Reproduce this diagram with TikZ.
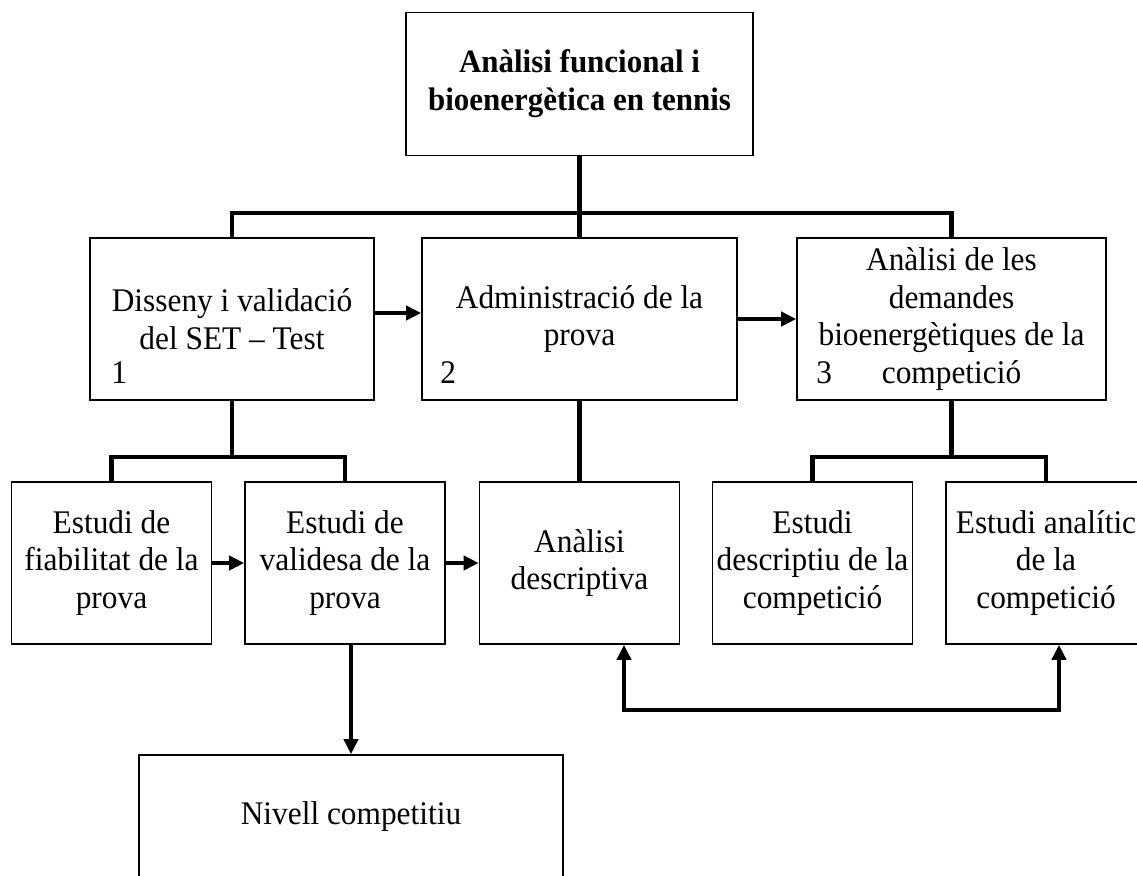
\documentclass[tikz,border=0pt]{standalone}
\usepackage{fontspec}
\setmainfont{Liberation Serif}[FakeStretch=0.95]
\usetikzlibrary{arrows.meta}

\begin{document}
\begin{tikzpicture}[x=0.5pt,y=-0.5pt,
    box/.style={draw,line width=0.8pt,align=center,inner sep=0pt,font=\fontsize{16.5}{18.7}\selectfont},
    link/.style={line width=2.4pt},
    arr/.style={link,-{Triangle[length=7.5pt,width=7pt]}},
    num/.style={anchor=base west,inner sep=0pt,font=\fontsize{16.5}{18.7}\selectfont}]

\useasboundingbox (0,0) rectangle (1137,875);
\clip (0,0) rectangle (1137,875);

% top
\node[box,minimum width=173.5pt,minimum height=71.5pt,font=\fontsize{16.3}{18.9}\selectfont\bfseries] (top) at (579.5,84)
    {Anàlisi funcional i\\bioenergètica en tennis};

% first level
\node[box,minimum width=142pt,minimum height=81pt] (s1) at (232,319) {Disseny i validació\\del SET -- Test};
\node[box,minimum width=157.5pt,minimum height=81pt] (s2) at (579.5,319) {Administració de la\\prova};
\node[box,minimum width=154.5pt,minimum height=81pt] (s3) at (951.5,319)
    {Anàlisi de les\\demandes\\bioenergètiques de la\\competició};

\node[num] (n1) at (111,383) {1};
\node[num] (n2) at (440,383) {2};
\node[num] (n3) at (816,383) {3};

% second level
\foreach \n/\x/\t in {s1a/111.5/{Estudi de\\fiabilitat de la\\prova},
                      s1b/345/{Estudi de\\validesa de la\\prova},
                      s2a/579.5/{Anàlisi\\descriptiva},
                      s3a/812.5/{Estudi\\descriptiu de la\\competició},
                      s3b/1046/{Estudi analític\\de la\\competició}}
    \node[box,minimum width=100pt,minimum height=81pt] (\n) at (\x,563) {\t};

\node[box,minimum width=212pt,minimum height=62pt] (lvl) at (351,817) {Nivell competitiu};

% tree lines
\coordinate (bar1) at (579.5,213);
\coordinate (bar2) at (232,457);
\coordinate (bar3) at (951.5,457);

\draw[link] (top.south) -- (bar1);
\foreach \b in {s1,s2,s3}
    \draw[link] (\b.north) |- (bar1);

\draw[link] (s1.south) -- (bar2);
\foreach \b in {s1a,s1b}
    \draw[link] (\b.north) |- (bar2);

\draw[link] (s3.south) -- (bar3);
\foreach \b in {s3a,s3b}
    \draw[link] (\b.north) |- (bar3);

\draw[link] (s2.south) -- (s2a.north);

% arrows
\draw[arr] ([yshift=3pt]s1.east) -- ([yshift=3pt]s2.west);
\draw[arr] (s2.east) -- (s3.west);
\draw[arr] (s1a.east) -- (s1b.west);
\draw[arr] (s1b.east) -- (s2a.west);
\draw[arr] (lvl.north |- s1b.south) -- (lvl.north);

\coordinate (fb1) at (624,710);
\coordinate (fb2) at (1059,710);
\draw[link,{Triangle[length=7.5pt,width=7pt]}-{Triangle[length=7.5pt,width=7pt]}]
    (s2a.south -| fb1) -- (fb1) -- (fb2) -- (s3b.south -| fb2);

\end{tikzpicture}
\end{document}
